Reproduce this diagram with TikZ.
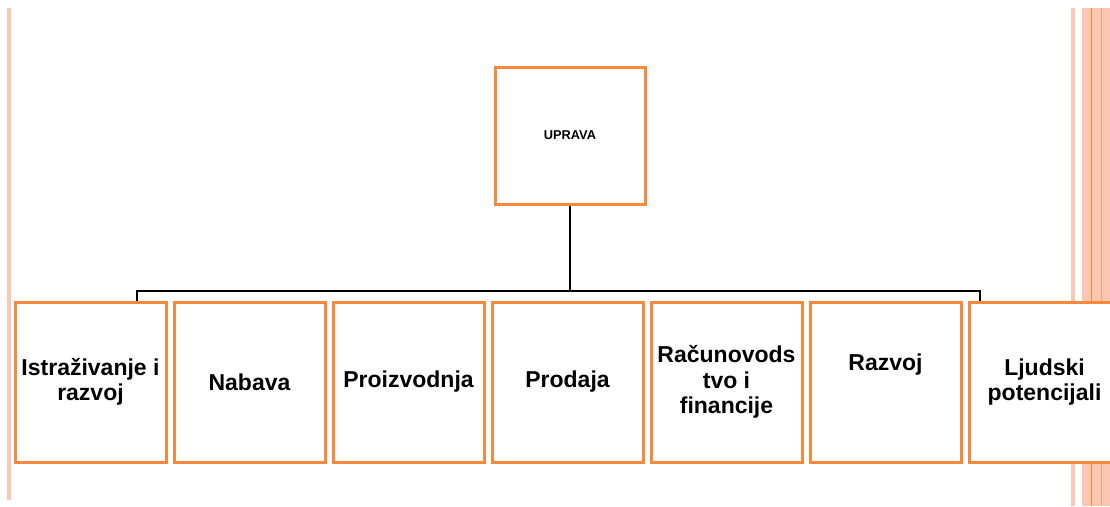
\documentclass[tikz,border=0pt]{standalone}
\usepackage{fontspec}
\setmainfont{Liberation Sans}
\definecolor{stripe}{RGB}{251,199,178}
\definecolor{stripedark}{RGB}{247,160,120}
\definecolor{boxorange}{RGB}{247,137,62}
\begin{document}
\begin{tikzpicture}[x=1pt,y=-1pt,
  unit/.style={draw=boxorange, line width=3pt, fill=white, minimum width=151pt, minimum height=160pt, inner sep=0pt},
  topunit/.style={draw=boxorange, line width=3pt, fill=white, minimum width=150pt, minimum height=137pt, inner sep=0pt, font=\fontsize{12.8}{15}\selectfont\bfseries},
  txt/.style={align=center, inner sep=0pt, font=\fontsize{23}{25.5}\selectfont\bfseries},
  conn/.style={draw=black, line width=2pt}]
\useasboundingbox (0,0) rectangle (1110,506);
\clip (0,0) rectangle (1110,506);
% decorative stripes
\fill[stripe] (7,8) rectangle (10.5,500);
\fill[stripe] (1071,8) rectangle (1075,506);
\fill[stripe] (1082,8) rectangle (1110,506);
\draw[boxorange, line width=1.5pt] (1091.5,8) -- (1091.5,506);
\draw[stripedark, line width=1pt] (1101,8) -- (1101,506);
% top box
\node[topunit] (top) at (570,135.5) {UPRAVA};
% department boxes
\node[unit] (b1) at (90.5,382) {};
\node[unit] (b2) at (249.5,382) {};
\node[unit] (b3) at (408.5,382) {};
\node[unit] (b4) at (567.5,382) {};
\node[unit] (b5) at (726.5,382) {};
\node[unit] (b6) at (885.5,382) {};
\node[unit] (b7) at (1044.5,382) {};
\node[txt] (t1) at (b1.center) {Istraživanje i\\razvoj};
\node[txt] (t2) at (b2.center) {Nabava};
\node[txt] (t3) at (b3.center) {Proizvodnja};
\node[txt] (t4) at (b4.center) {Prodaja};
\node[txt] (t5) at (b5.center) {Računovods\\tvo i\\financije};
\node[txt] (t6) at ([yshift=17.5pt]b6.center) {Razvoj};
\node[txt] (t7) at (b7.center) {Ljudski\\potencijali};
% connectors
\coordinate (bus) at (570,291);
\coordinate (l) at (137,291);
\coordinate (r) at (980,291);
\draw[conn] (top.south) -- (bus);
\draw[conn] (b1.north -| l) -- (l) -- (r) -- (b7.north -| r);
\end{tikzpicture}
\end{document}
